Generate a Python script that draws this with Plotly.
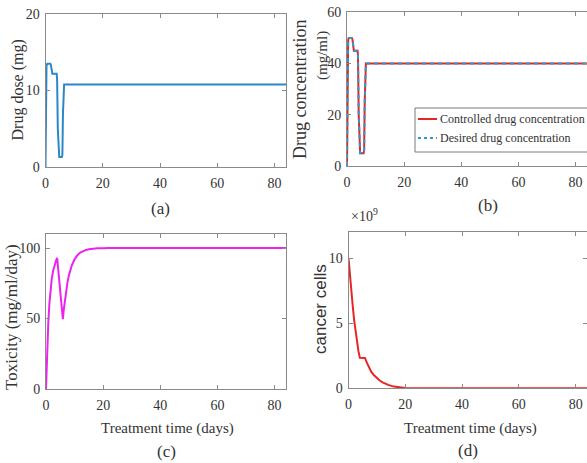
import plotly.graph_objects as go

# ---- data -------------------------------------------------------------
# (a) administered drug dose (mg)
t_dose = [0, 0.15, 0.35, 0.6, 1.7, 1.9, 2.1, 2.4, 3.9, 4.05, 4.3, 4.6, 4.8,
          5.7, 5.9, 6.1, 6.3, 6.5, 84]
dose = [0, 8, 13.2, 13.5, 13.5, 13.3, 12.5, 12.2, 12.2, 11.5, 5, 1.6, 1.3,
        1.3, 1.6, 7, 10.6, 10.8, 10.8]

# (b) drug concentration (mg/ml): controlled vs desired
t_conc = [0, 0.15, 0.4, 0.6, 1.7, 1.9, 2.1, 2.4, 3.7, 3.85, 4.1, 4.4, 4.6,
          5.8, 6.0, 6.2, 6.4, 6.6, 84]
conc_controlled = [0, 30, 49, 50, 50, 49.5, 46, 45, 45, 43, 20, 6, 5,
                   5, 6, 25, 39, 40, 40]
conc_desired = [0, 30, 49, 50, 50, 49.5, 46, 45, 45, 43, 20, 6, 5,
                5, 6, 25, 39, 40, 40]

# (c) toxicity (mg/ml/day)
t_tox = [0, 0.2, 0.4, 0.8, 1.2, 1.6, 2.0, 2.5, 3.0, 3.5, 3.9, 4.4, 4.9, 5.4,
         5.9, 6.2, 6.6, 7.0, 7.5, 8.0, 8.5, 9.0, 10, 11, 12, 13, 14, 15, 16,
         17, 18, 20, 22, 84]
tox = [0, 15.5, 28, 47, 61, 71, 78, 84, 88, 91, 93, 83, 72, 61,
       49.5, 56, 63, 69, 75.5, 80.5, 84.5, 87.5, 92, 95, 96.8, 98, 98.7, 99.2,
       99.5, 99.7, 99.8, 99.9, 100, 100]

# (d) cancer cells, in units of 1e9
t_cells = [0, 0.5, 1.0, 1.5, 2.0, 2.5, 3.0, 3.5, 4.0, 5.0, 5.8, 6.5, 7.0,
           8.0, 9.0, 10, 11, 12, 13, 14, 16, 18, 20, 25, 84]
cells_e9 = [10, 8.6, 7.4, 6.3, 5.2, 4.3, 3.5, 2.85, 2.35, 2.35, 2.33, 1.95,
            1.7, 1.28, 1.0, 0.78, 0.6, 0.46, 0.35, 0.26, 0.13, 0.06, 0.03,
            0.005, 0]
CELL_SCALE = 1e9

x_ticks = [0, 20, 40, 60, 80]

# ---- styling ----------------------------------------------------------
W, H = 587, 463
SERIF = "Liberation Serif"
SANS = "Liberation Sans"
TXT = "#333333"
AXC = "#8a8a8a"


def px(x):
    return x / W


def py(y):
    return 1 - y / H


def tick_font():
    return dict(family=SERIF, size=14, color=TXT)


fig = go.Figure()

fig.add_trace(go.Scatter(x=t_dose, y=dose, mode="lines",
                         line=dict(color="#2a88c8", width=2),
                         xaxis="x", yaxis="y", showlegend=False))
fig.add_trace(go.Scatter(x=t_conc, y=conc_controlled, mode="lines",
                         name="Controlled drug concentration",
                         line=dict(color="#e82525", width=2),
                         xaxis="x2", yaxis="y2", showlegend=False))
fig.add_trace(go.Scatter(x=t_conc, y=conc_desired, mode="lines",
                         name="Desired drug concentration",
                         line=dict(color="#2a9ad6", width=2, dash="4px,4px"),
                         xaxis="x2", yaxis="y2", showlegend=False))
fig.add_trace(go.Scatter(x=t_tox, y=tox, mode="lines",
                         line=dict(color="#ee22ee", width=2),
                         xaxis="x3", yaxis="y3", showlegend=False))
fig.add_trace(go.Scatter(x=t_cells, y=[v * CELL_SCALE for v in cells_e9],
                         mode="lines",
                         line=dict(color="#e82525", width=2),
                         xaxis="x4", yaxis="y4", showlegend=False))


def xaxis_opts(domain, anchor):
    return dict(domain=domain, anchor=anchor, range=[0, 84],
                tickmode="array", tickvals=x_ticks,
                showline=True, linecolor=AXC, linewidth=1, mirror="ticks",
                ticks="inside", ticklen=4, tickcolor=AXC, showgrid=False,
                zeroline=False, ticklabelstandoff=3, tickfont=tick_font())


def yaxis_opts(domain, anchor, rng, vals, text=None):
    d = dict(domain=domain, anchor=anchor, range=rng,
             tickmode="array", tickvals=vals,
             showline=True, linecolor=AXC, linewidth=1, mirror="ticks",
             ticks="inside", ticklen=4, tickcolor=AXC, showgrid=False,
             zeroline=False, ticklabelstandoff=2, tickfont=tick_font())
    if text is not None:
        d["ticktext"] = text
    return d


fig.update_layout(
    width=W, height=H,
    margin=dict(l=0, r=0, t=0, b=0, autoexpand=False),
    paper_bgcolor="white", plot_bgcolor="white",
    font=dict(family=SERIF, size=14, color=TXT),
    showlegend=False,
    xaxis=xaxis_opts([px(45.5), px(286)], "y"),
    yaxis=yaxis_opts([py(167), py(14)], "x", [0, 20], [0, 10, 20]),
    xaxis2=xaxis_opts([px(347), 1.0], "y2"),
    yaxis2=yaxis_opts([py(166), py(12.3)], "x2", [0, 60], [0, 20, 40, 60]),
    xaxis3=xaxis_opts([px(46), px(286)], "y3"),
    yaxis3=yaxis_opts([py(389), py(234)], "x3", [0, 110], [0, 50, 100]),
    xaxis4=xaxis_opts([px(348.5), 1.0], "y4"),
    yaxis4=yaxis_opts([py(388.3), py(232)], "x4", [0, 12e9],
                      [0, 5e9, 10e9], ["0", "5", "10"]),
)


def label(text, x, y, size=16, family=SERIF, angle=0, xanchor="center"):
    fig.add_annotation(text=text, x=px(x), y=py(y), xref="paper",
                       yref="paper", showarrow=False, textangle=angle,
                       xanchor=xanchor, yanchor="middle",
                       font=dict(family=family, size=size, color=TXT))


# axis titles
label("Drug dose (mg)", 17.5, 90, size=16, angle=-90)
label("Drug concentration", 300, 90, size=18, angle=-90)
label("(mg/ml)", 322, 56, size=15, angle=-90)
label("Toxicity (mg/ml/day)", 11, 317, size=17, angle=-90)
label("cancer cells", 320, 309, size=17, family=SANS, angle=-90)
label("Treatment time (days)", 167, 428, size=15)
label("Treatment time (days)", 470, 428, size=15)

# panel tags
label("(a)", 160, 208, size=17)
label("(b)", 488, 205, size=17)
label("(c)", 166, 451, size=17)
label("(d)", 468, 450, size=17)

# exponent marker for the cancer-cell axis
label("×10<sup>9</sup>", 349, 215, size=14, xanchor="left")

# legend for panel (b)
fig.add_shape(type="rect", xref="paper", yref="paper",
              x0=px(415), x1=px(640), y0=py(152), y1=py(108),
              line=dict(color="#7a7a7a", width=1), fillcolor="white")
fig.add_shape(type="line", xref="paper", yref="paper",
              x0=px(418), x1=px(437), y0=py(119), y1=py(119),
              line=dict(color="#e82525", width=2))
fig.add_shape(type="line", xref="paper", yref="paper",
              x0=px(418), x1=px(437), y0=py(138), y1=py(138),
              line=dict(color="#2a9ad6", width=2, dash="3px,3px"))
label("Controlled drug concentration", 438, 119, size=12, xanchor="left")
label("Desired drug concentration", 438, 138, size=12, xanchor="left")

fig.write_html("out.html")
